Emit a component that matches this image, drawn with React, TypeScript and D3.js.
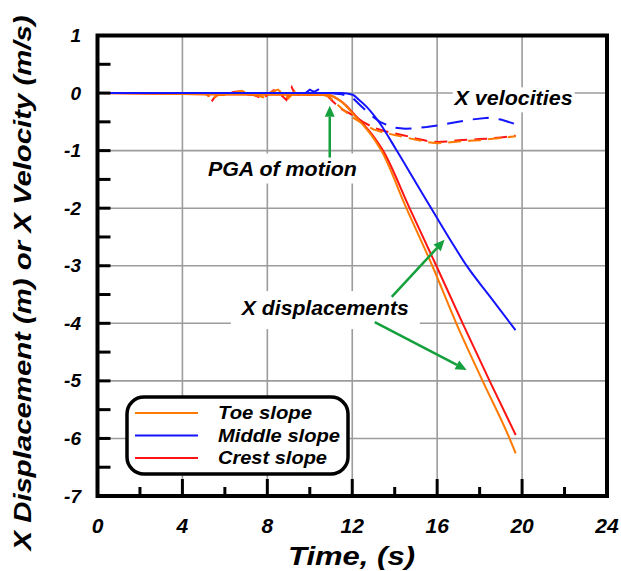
import React from "react";
import * as d3 from "d3";

// ---------- data ----------
const xTicks = [0, 4, 8, 12, 16, 20, 24];
const yTicks = [1, 0, -1, -2, -3, -4, -5, -6, -7];

// displacements (solid)
const toeDispT = [0, 5, 10.8, 11.3, 11.7, 12.0, 12.5, 12.96, 13.37, 14.55, 15.77, 16.9, 18.14, 19.41, 19.7];
const toeDisp = [0, -0.02, -0.03, -0.1, -0.22, -0.35, -0.55, -0.76, -1, -2, -3, -4, -5, -6, -6.26];

const middleDispT = [0, 5, 11.5, 12.02, 12.3, 12.68, 13.29, 14.08, 15.02, 15.96, 16.7, 17.37, 18.5, 19.69];
const middleDisp = [0, 0, 0, -0.03, -0.11, -0.24, -0.52, -0.99, -1.57, -2.15, -2.6, -2.99, -3.54, -4.12];

const crestDispT = [0, 5, 10.8, 11.3, 11.7, 12.0, 12.5, 13.0, 13.45, 14.7, 15.96, 17.2, 18.47, 19.7];
const crestDisp = [0, -0.02, -0.03, -0.1, -0.21, -0.33, -0.53, -0.75, -1, -2, -3, -4, -5, -5.94];

// velocities (dashed)
const toeVelT = [0, 5.0, 5.25, 5.4, 5.6, 6.0, 6.5, 6.8, 7.2, 7.6, 7.9, 8.2, 8.5, 8.8, 9.0, 9.3, 9.7, 10.2, 10.6, 10.9, 11.2, 11.6, 12.0, 12.5, 13.0, 13.5, 14.0, 14.5, 15.0, 15.5, 16.0, 16.5, 17.0, 17.5, 18.0, 18.5, 19.0, 19.7];
const toeVel = [0, 0, -0.05, -0.12, -0.04, -0.03, 0.01, 0.04, -0.02, -0.05, -0.08, 0.02, 0.06, -0.03, -0.09, 0.04, -0.03, -0.02, -0.03, -0.06, -0.17, -0.3, -0.42, -0.53, -0.63, -0.69, -0.73, -0.77, -0.81, -0.85, -0.87, -0.86, -0.84, -0.83, -0.82, -0.8, -0.78, -0.75];

const middleVelT = [0, 9.8, 10.0, 10.2, 10.4, 10.6, 10.9, 11.5, 12.0, 12.4, 12.8, 13.3, 13.9, 14.5, 15.0, 15.5, 16.1, 16.8, 17.6, 18.4, 19.0, 19.7];
const middleVel = [0, 0, 0.06, 0.02, 0.06, 0.03, 0.0, -0.02, -0.08, -0.22, -0.36, -0.5, -0.6, -0.62, -0.61, -0.59, -0.56, -0.51, -0.46, -0.43, -0.46, -0.54];

const crestVelT = [0, 5.0, 5.2, 5.35, 5.5, 5.7, 6.0, 6.4, 6.7, 7.0, 7.4, 7.8, 8.0, 8.3, 8.6, 8.9, 9.15, 9.3, 9.6, 10.0, 10.4, 10.8, 11.1, 11.5, 12.0, 12.5, 13.0, 13.5, 14.0, 14.5, 15.0, 15.5, 16.0, 16.5, 17.0, 17.5, 18.0, 18.5, 19.0, 19.7];
const crestVel = [0, 0, -0.03, -0.16, -0.08, -0.02, -0.05, 0.02, 0.03, -0.02, -0.04, -0.1, -0.03, 0.05, -0.02, -0.12, 0.1, -0.02, -0.04, -0.03, -0.02, -0.04, -0.15, -0.28, -0.38, -0.5, -0.6, -0.66, -0.7, -0.74, -0.79, -0.83, -0.85, -0.84, -0.82, -0.81, -0.8, -0.79, -0.77, -0.74];

const seriesNames = ["Toe slope", "Middle slope", "Crest slope"];
const seriesColors = ["#ff7a00", "#1414ff", "#ff1414"];

const FONT = "'Liberation Sans', Arial, sans-serif";
const GREEN = "#14a03c";

export default function App() {
  const W = 621, H = 571;
  const x = d3.scaleLinear().domain([0, 24]).range([97.5, 607]);
  const y = d3.scaleLinear().domain([-7, 1]).range([496, 35.5]);

  const mk = (ts: number[], vs: number[]) => ts.map((t, i) => [t, vs[i]] as [number, number]);
  const smooth = d3.line<[number, number]>().x(d => x(d[0])).y(d => y(d[1])).curve(d3.curveMonotoneX);
  const lin = d3.line<[number, number]>().x(d => x(d[0])).y(d => y(d[1]));

  const disp = [mk(toeDispT, toeDisp), mk(middleDispT, middleDisp), mk(crestDispT, crestDisp)];
  const vel = [mk(toeVelT, toeVel), mk(middleVelT, middleVel), mk(crestVelT, crestVel)];
  const drawOrder = [2, 0, 1];

  const gridX = d3.range(4, 24, 4);
  const gridY = d3.range(-6, 1, 1);
  const minorX = d3.range(2, 24, 4);
  const majorX = d3.range(4, 24, 4);
  const leftTicks = d3.range(-6.5, 1, 0.5);

  const arrow = (x1: number, y1: number, x2: number, y2: number, key: string) => {
    const ang = Math.atan2(y2 - y1, x2 - x1);
    const L = 11, Wd = 5;
    const bx = x2 - L * Math.cos(ang), by = y2 - L * Math.sin(ang);
    const p1 = [bx + Wd * Math.sin(ang), by - Wd * Math.cos(ang)];
    const p2 = [bx - Wd * Math.sin(ang), by + Wd * Math.cos(ang)];
    return (
      <g key={key}>
        <line x1={x1} y1={y1} x2={bx} y2={by} stroke={GREEN} strokeWidth={2.5} />
        <polygon points={`${x2},${y2} ${p1[0]},${p1[1]} ${p2[0]},${p2[1]}`} fill={GREEN} />
      </g>
    );
  };

  const textStyle = { fontFamily: FONT, fontWeight: 700, fontStyle: "italic" as const };

  return (
    <svg width={W} height={H} style={{ position: "absolute", left: 0, top: 0, background: "#fff" }}>
      <rect x={0} y={0} width={W} height={H} fill="#fff" />
      {/* grid */}
      {gridX.map(t => (
        <line key={"gx" + t} x1={x(t)} x2={x(t)} y1={y(1)} y2={y(-7)} stroke="#9c9c9c" strokeWidth={1.6} />
      ))}
      {gridY.map(v => (
        <line key={"gy" + v} x1={x(0)} x2={x(24)} y1={y(v)} y2={y(v)} stroke="#9c9c9c" strokeWidth={1.6} />
      ))}
      {/* white boxes behind annotations */}
      <rect x={x(5.05)} y={y(-1.05)} width={155} height={30} fill="#fff" />
      <rect x={x(6.28)} y={y(-3.44)} width={189} height={38} fill="#fff" />
      <rect x={x(16.73)} y={y(0.1)} width={122} height={25} fill="#fff" />

      {/* velocities dashed */}
      {drawOrder.map(i => (
        <path key={"v" + i} d={lin(vel[i]) || ""} fill="none" stroke={seriesColors[i]} strokeWidth={2}
          strokeDasharray={i === 1 ? "16,10" : "13,7"} />
      ))}
      {/* displacements solid */}
      {drawOrder.map(i => (
        <path key={"d" + i} d={smooth(disp[i]) || ""} fill="none" stroke={seriesColors[i]} strokeWidth={2} />
      ))}

      {/* ticks */}
      {leftTicks.map(v => (
        <line key={"lt" + v} x1={x(0)} x2={x(0) + 13} y1={y(v)} y2={y(v)} stroke="#000" strokeWidth={3} />
      ))}
      {majorX.map(t => (
        <line key={"bt" + t} x1={x(t)} x2={x(t)} y1={y(-7)} y2={y(-7) - 17} stroke="#000" strokeWidth={3} />
      ))}
      {minorX.map(t => (
        <line key={"bm" + t} x1={x(t)} x2={x(t)} y1={y(-7)} y2={y(-7) - 9} stroke="#000" strokeWidth={3} />
      ))}
      {/* frame */}
      <rect x={x(0)} y={y(1)} width={x(24) - x(0)} height={y(-7) - y(1)} fill="none" stroke="#000" strokeWidth={4} />

      {/* tick labels */}
      {xTicks.map(t => (
        <text key={"xl" + t} x={x(t)} y={533} textAnchor="middle" fontSize={21} {...textStyle}>{t}</text>
      ))}
      {yTicks.map(v => (
        <text key={"yl" + v} x={81} y={y(v) + 6.5} textAnchor="end" fontSize={19} {...textStyle}>{v}</text>
      ))}

      {/* axis titles */}
      <text x={288} y={565} fontSize={25} textLength={127} lengthAdjust="spacingAndGlyphs" {...textStyle}>Time, (s)</text>
      <text transform="translate(31,283) rotate(-90)" textAnchor="middle" fontSize={24}
        textLength={535} lengthAdjust="spacingAndGlyphs" {...textStyle}>X Displacement (m) or X Velocity (m/s)</text>

      {/* annotations */}
      {arrow(x(10.94), y(-1.12), x(10.94), y(-0.22), "a1")}
      {arrow(x(13.86), y(-3.54), x(16.35), y(-2.55), "a2")}
      {arrow(x(13.06), y(-3.98), x(17.39), y(-4.81), "a3")}
      <text x={x(5.2)} y={y(-1.44)} fontSize={20} textLength={149} lengthAdjust="spacingAndGlyphs" {...textStyle}>PGA of motion</text>
      <text x={x(6.8)} y={y(-3.86)} fontSize={20} textLength={167} lengthAdjust="spacingAndGlyphs" {...textStyle}>X displacements</text>
      <text x={x(16.82)} y={y(-0.21)} fontSize={20} textLength={118} lengthAdjust="spacingAndGlyphs" {...textStyle}>X velocities</text>

      {/* legend */}
      <rect x={127} y={397} width={221} height={77} rx={17} ry={17} fill="#fff" stroke="#000" strokeWidth={3.5} />
      {seriesNames.map((n, i) => (
        <g key={"lg" + i}>
          <line x1={135} x2={198} y1={413 + i * 22.5} y2={413 + i * 22.5} stroke={seriesColors[i]} strokeWidth={2} />
          <text x={218} y={419 + i * 22.5} fontSize={18} textLength={[94, 122, 109][i]} lengthAdjust="spacingAndGlyphs" {...textStyle}>{n}</text>
        </g>
      ))}
    </svg>
  );
}
